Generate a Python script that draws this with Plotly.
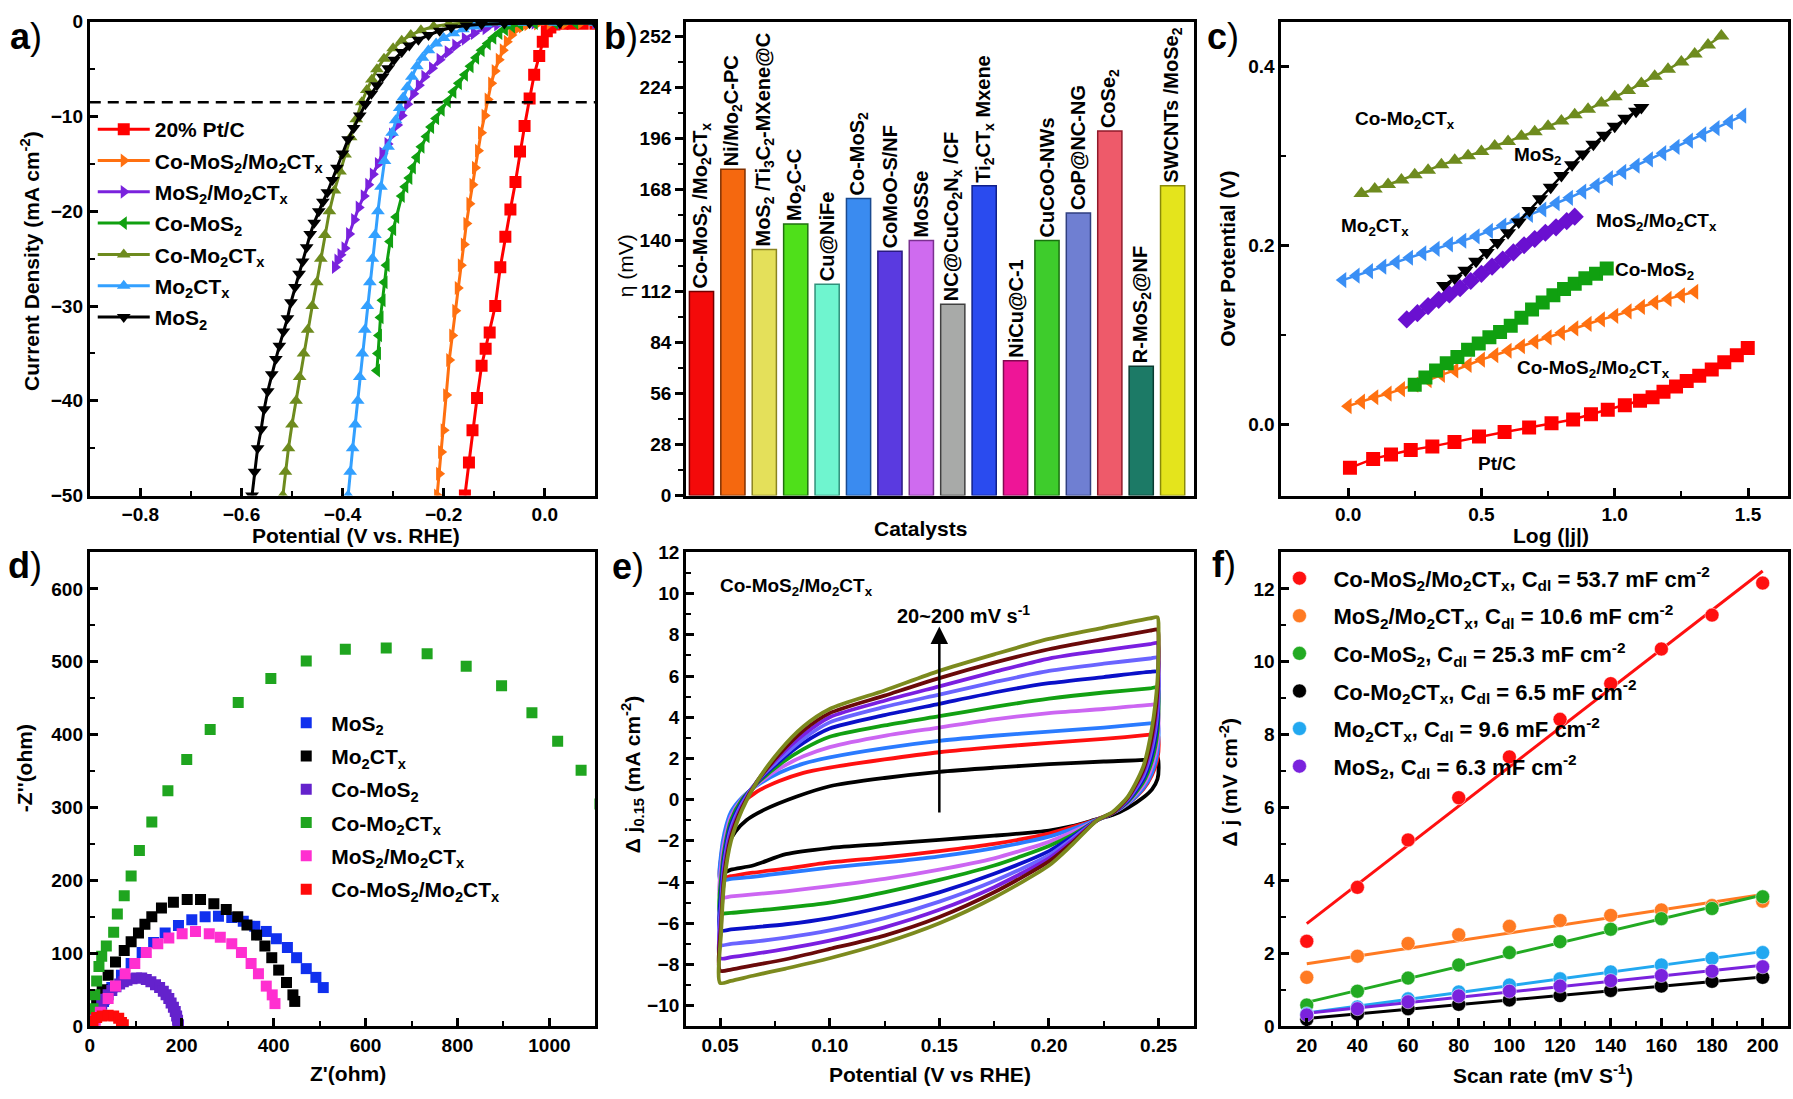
import numpy as np
import plotly.graph_objects as go

W, H = 1793, 1099
FONT = "Liberation Sans, Arial, Helvetica, sans-serif"

# ---------------- panel a : LSV ----------------
pt_x = [-0.158,-0.150,-0.143,-0.134,-0.125,-0.117,-0.109,-0.098,-0.088,-0.078,-0.068,-0.058,-0.049,-0.040,-0.030,-0.021,-0.011,-0.004,0.004,0.011,0.019,0.035,0.055,0.075,0.1]
pt_y = [-50,-46.5,-43.1,-39.7,-36.3,-34.5,-32.8,-30.0,-25.9,-22.7,-19.8,-16.9,-13.7,-11.0,-8.1,-5.6,-3.6,-2.1,-1.0,-0.6,-0.3,-0.2,-0.2,-0.2,-0.2]
comos2mx_x = [-0.213,-0.209,-0.205,-0.200,-0.195,-0.189,-0.183,-0.177,-0.172,-0.166,-0.160,-0.155,-0.149,-0.143,-0.138,-0.132,-0.126,-0.119,-0.113,-0.106,-0.099,-0.091,-0.083,-0.075,-0.066,-0.057,-0.045,-0.034,-0.015,0.01,0.04,0.07,0.1]
comos2mx_y = [-50,-47.7,-45.4,-43.1,-39.4,-35.7,-33.1,-30.5,-28.1,-25.7,-23.5,-21.3,-19.2,-17.2,-15.4,-13.6,-11.7,-9.9,-8.2,-6.5,-5.2,-4.0,-3.0,-2.1,-1.4,-0.8,-0.5,-0.26,-0.2,-0.15,-0.15,-0.15,-0.15]
mos2mx_x = [-0.415,-0.410,-0.404,-0.396,-0.387,-0.377,-0.368,-0.358,-0.349,-0.340,-0.330,-0.321,-0.311,-0.302,-0.292,-0.283,-0.272,-0.260,-0.249,-0.238,-0.223,-0.208,-0.192,-0.177,-0.158,-0.140,-0.117,-0.094,-0.06,-0.02,0.03,0.1]
mos2mx_y = [-25.9,-25.2,-24.6,-23.9,-22.4,-20.9,-19.6,-18.4,-17.2,-16.1,-15.0,-13.9,-12.9,-11.9,-10.9,-9.9,-8.7,-7.6,-6.7,-5.8,-4.9,-4.0,-3.2,-2.5,-1.8,-1.2,-0.7,-0.3,-0.15,-0.1,-0.1,-0.1]
comos2_x = [-0.332,-0.330,-0.328,-0.325,-0.321,-0.317,-0.313,-0.306,-0.300,-0.294,-0.283,-0.276,-0.268,-0.261,-0.253,-0.244,-0.234,-0.225,-0.215,-0.204,-0.192,-0.181,-0.170,-0.158,-0.147,-0.136,-0.125,-0.113,-0.102,-0.090,-0.079,-0.065,-0.049,-0.02,0.02,0.06,0.1]
comos2_y = [-36.8,-35.0,-33.1,-31.2,-29.4,-27.5,-25.7,-23.2,-21.9,-20.6,-18.4,-17.4,-16.5,-15.4,-14.3,-13.2,-12.1,-11.1,-10.2,-9.3,-8.4,-7.4,-6.5,-5.6,-4.7,-3.8,-3.0,-2.3,-1.7,-1.2,-0.8,-0.5,-0.26,-0.15,-0.1,-0.1,-0.1]
comx_x = [-0.518,-0.513,-0.507,-0.500,-0.492,-0.485,-0.477,-0.469,-0.460,-0.451,-0.443,-0.435,-0.426,-0.416,-0.405,-0.395,-0.384,-0.373,-0.362,-0.352,-0.342,-0.332,-0.318,-0.300,-0.283,-0.265,-0.245,-0.22,-0.19,-0.15,-0.1,-0.04,0.03,0.1]
comx_y = [-50,-47.5,-45,-42.5,-40,-37.5,-35,-32.5,-30,-27.5,-25,-22.5,-20,-17.8,-15.8,-14,-12.2,-10.3,-8.5,-7.2,-6.1,-5.0,-3.9,-2.8,-2.0,-1.4,-0.9,-0.5,-0.25,-0.1,-0.07,-0.07,-0.07,-0.07]
mx_x = [-0.389,-0.385,-0.380,-0.375,-0.370,-0.366,-0.361,-0.356,-0.351,-0.346,-0.341,-0.336,-0.330,-0.324,-0.317,-0.310,-0.302,-0.295,-0.287,-0.280,-0.272,-0.263,-0.253,-0.242,-0.230,-0.215,-0.200,-0.181,-0.162,-0.140,-0.117,-0.08,-0.04,0.02,0.1]
mx_y = [-50,-47.5,-45,-42.5,-40,-37.5,-35,-32.5,-30,-27.5,-25,-22.5,-20,-17.4,-14.7,-13.2,-11.7,-10.4,-9.1,-8.0,-6.9,-5.8,-4.7,-3.8,-3.0,-2.3,-1.7,-1.2,-0.8,-0.5,-0.26,-0.15,-0.1,-0.1,-0.1]
mos2_x = [-0.579,-0.574,-0.568,-0.561,-0.555,-0.548,-0.540,-0.532,-0.525,-0.517,-0.509,-0.502,-0.494,-0.486,-0.479,-0.471,-0.464,-0.456,-0.447,-0.439,-0.430,-0.420,-0.411,-0.400,-0.389,-0.378,-0.366,-0.355,-0.343,-0.332,-0.321,-0.310,-0.298,-0.283,-0.268,-0.250,-0.230,-0.208,-0.185,-0.155,-0.125,-0.08,-0.03,0.03,0.1]
mos2_y = [-50,-47.5,-45,-43,-40.9,-39,-37.2,-35.6,-34.2,-32.7,-31.3,-29.6,-28.0,-26.6,-25.3,-23.8,-22.4,-21.2,-20.0,-19.0,-18.0,-16.7,-15.4,-13.9,-12.4,-11.2,-9.9,-8.7,-7.6,-6.7,-5.8,-4.9,-4.0,-3.2,-2.5,-1.9,-1.4,-0.95,-0.6,-0.4,-0.26,-0.18,-0.15,-0.15,-0.15]
ref_current = -8.5

# ---------------- panel b : bar chart ----------------
b_labels = ["Co-MoS<sub>2</sub> /Mo<sub>2</sub>CT<sub>x</sub>", "Ni/Mo<sub>2</sub>C-PC",
            "MoS<sub>2</sub> /Ti<sub>3</sub>C<sub>2</sub>-MXene@C", "Mo<sub>2</sub>C-C", "Cu@NiFe",
            "Co-MoS<sub>2</sub>", "CoMoO-S/NF", "MoSSe", "NC@CuCo<sub>2</sub>N<sub>x</sub> /CF",
            "Ti<sub>2</sub>CT<sub>x</sub> Mxene", "NiCu@C-1", "CuCoO-NWs", "CoP@NC-NG",
            "CoSe<sub>2</sub>", "R-MoS<sub>2</sub>@NF", "SWCNTs /MoSe<sub>2</sub>"]
b_values = [112, 179, 135, 149, 116, 163, 134, 140, 105, 170, 74, 140, 155, 200, 71, 170]
b_colors = ["#F40A0A", "#F5680F", "#E4E05A", "#4FE01A", "#6FF5CF", "#3A8BF0", "#5A3AE0", "#CF6BEF",
            "#A8AAA8", "#2A4BEF", "#EE1597", "#3ECC2C", "#6F7FD2", "#EE5A6A", "#1C7A66", "#E4E41C"]
b_edges = ["#700000", "#803000", "#8A8420", "#207010", "#30907A", "#1A4A90", "#2A1A80", "#7A3090",
           "#404040", "#10208A", "#800A50", "#1A7010", "#303F80", "#901A2A", "#0A3A30", "#8A8A0A"]

# ---------------- panel c : Tafel ----------------
tc_comx_x = [0.05,0.10,0.15,0.20,0.25,0.30,0.35,0.40,0.45,0.50,0.55,0.60,0.65,0.70,0.75,0.80,0.85,0.90,0.95,1.00,1.05,1.10,1.15,1.20,1.25,1.30,1.35,1.40]
tc_comx_y = [0.258,0.263,0.268,0.273,0.279,0.284,0.290,0.295,0.300,0.305,0.311,0.316,0.322,0.327,0.333,0.339,0.346,0.352,0.359,0.366,0.373,0.381,0.389,0.397,0.405,0.414,0.424,0.434]
tc_mx_x = [-0.02,0.03,0.08,0.13,0.18,0.23,0.28,0.33,0.38,0.43,0.48,0.53,0.58,0.63,0.68,0.73,0.78,0.83,0.88,0.93,0.98,1.03,1.08,1.13,1.18,1.23,1.28,1.33,1.38,1.43,1.48]
tc_mx_y = [0.161,0.166,0.171,0.176,0.181,0.186,0.191,0.196,0.201,0.205,0.210,0.216,0.222,0.228,0.234,0.240,0.247,0.253,0.260,0.267,0.275,0.282,0.289,0.296,0.303,0.310,0.317,0.324,0.331,0.338,0.345]
tc_mos2_x = [0.36,0.40,0.44,0.48,0.52,0.56,0.60,0.64,0.68,0.72,0.76,0.80,0.84,0.88,0.92,0.96,1.00,1.04,1.08,1.10]
tc_mos2_y = [0.155,0.163,0.172,0.182,0.192,0.203,0.214,0.226,0.239,0.252,0.265,0.278,0.290,0.302,0.313,0.323,0.333,0.342,0.350,0.354]
tc_mos2mx_x = [0.22,0.26,0.30,0.34,0.38,0.42,0.46,0.50,0.54,0.58,0.62,0.66,0.70,0.74,0.78,0.82,0.85]
tc_mos2mx_y = [0.117,0.124,0.132,0.139,0.145,0.152,0.160,0.168,0.176,0.184,0.192,0.200,0.207,0.214,0.220,0.227,0.232]
tc_comos2_x = [0.25,0.29,0.33,0.37,0.41,0.45,0.49,0.53,0.57,0.61,0.65,0.69,0.73,0.77,0.81,0.85,0.89,0.93,0.97]
tc_comos2_y = [0.044,0.052,0.060,0.068,0.075,0.083,0.090,0.097,0.103,0.110,0.119,0.128,0.136,0.144,0.151,0.157,0.163,0.168,0.174]
tc_comos2mx_x = [0.0,0.05,0.10,0.15,0.20,0.25,0.30,0.35,0.40,0.45,0.50,0.55,0.60,0.65,0.70,0.75,0.80,0.85,0.90,0.95,1.00,1.05,1.10,1.15,1.20,1.25,1.30]
tc_comos2mx_y = [0.020,0.025,0.030,0.034,0.039,0.044,0.049,0.055,0.060,0.066,0.072,0.077,0.082,0.087,0.092,0.097,0.102,0.107,0.112,0.117,0.121,0.126,0.131,0.136,0.140,0.144,0.148]
tc_pt_x = [0.007,0.094,0.161,0.235,0.316,0.399,0.491,0.587,0.679,0.763,0.844,0.911,0.974,1.038,1.095,1.142,1.183,1.230,1.270,1.317,1.364,1.411,1.458,1.499]
tc_pt_y = [-0.049,-0.039,-0.034,-0.029,-0.025,-0.020,-0.014,-0.009,-0.004,0.001,0.005,0.011,0.016,0.021,0.026,0.030,0.036,0.042,0.048,0.054,0.061,0.069,0.077,0.085]

# ---------------- panel d : Nyquist ----------------
d_mos2_x = [15,30,48,69,90,114,139,164,193,222,251,280,309,334,359,384,406,430,450,471,492,508]
d_mos2_y = [14,34,53,70,86,101,115,128,138,146,150,151,149,144,137,130,120,108,94,79,67,53]
d_mx_x = [6,15,27,40,56,75,90,106,120,135,156,182,212,241,270,297,322,342,363,381,396,411,428,442,446]
d_mx_y = [10,29,50,70,88,104,116,128,140,150,162,170,174,174,168,160,150,139,125,110,94,77,60,43,34]
d_comos2_x = [5,11,19,26,32,40,48,57,65,73,81,92,102,113,123,133,143,152,160,166,172,177,182,186,189,191,193]
d_comos2_y = [2,12,22,30,37,43,49,54,58,61,63,65,66,66,64,61,57,53,48,43,38,32,26,20,14,8,2]
d_comx_x = [3,7,11,15,20,26,36,52,60,75,90,108,135,170,211,262,323,394,471,556,645,734,819,896,962,1018,1069,1110]
d_comx_y = [7,24,43,62,82,96,110,129,154,179,206,241,280,323,366,407,444,477,501,517,519,511,494,467,430,391,351,305]
d_mos2mx_x = [12,23,40,56,77,98,123,148,172,201,230,260,284,309,330,351,367,384,397,403]
d_mos2mx_y = [8,19,38,55,72,86,101,113,121,127,130,127,122,113,101,86,72,55,43,31]
d_comos2mx_x = [2,7,15,27,40,52,63,69,73]
d_comos2mx_y = [2,7,12,14,15,14,11,5,2]

# ---------------- panel e : CV loops ----------------
cv_x_black = [0.05,0.051,0.053,0.057,0.062,0.07,0.085,0.10,0.125,0.15,0.175,0.20,0.225,0.246,0.2495,0.25,0.2495,0.247,0.243,0.236,0.229,0.222,0.21,0.20,0.175,0.15,0.125,0.10,0.08,0.065,0.055,0.05]
cv_y_20 = [-3.6,-3.0,-2.3,-1.55,-1.0,-0.5,0.15,0.65,1.05,1.35,1.55,1.72,1.85,1.95,2.05,1.7,1.0,0.5,0.1,-0.4,-0.75,-0.95,-1.3,-1.5,-1.75,-1.95,-2.15,-2.35,-2.65,-3.2,-3.4,-3.6]
cv_x = [0.05,0.0505,0.052,0.055,0.06,0.067,0.077,0.088,0.10,0.125,0.15,0.175,0.20,0.225,0.246,0.2495,0.25,0.2495,0.247,0.243,0.236,0.229,0.222,0.21,0.20,0.175,0.15,0.125,0.10,0.08,0.065,0.055,0.05]
cv_y_40 = [-3.8,-2.8,-1.8,-0.9,-0.2,0.4,0.9,1.3,1.55,1.95,2.3,2.55,2.75,2.95,3.15,3.2,2.9,2.0,1.2,0.5,-0.2,-0.65,-0.95,-1.35,-1.65,-2.15,-2.5,-2.8,-3.05,-3.35,-3.55,-3.72,-3.8]
cv_y_60 = [-3.9,-2.6,-1.6,-0.6,0.1,0.7,1.3,1.75,2.05,2.5,2.85,3.1,3.3,3.5,3.7,3.75,3.4,2.3,1.3,0.55,-0.2,-0.65,-0.97,-1.45,-1.8,-2.35,-2.75,-3.05,-3.3,-3.55,-3.75,-3.85,-3.9]
cv_y_80 = [-4.75,-3.2,-2.0,-0.8,0.05,0.75,1.5,2.1,2.55,3.1,3.5,3.9,4.2,4.4,4.6,4.6,4.2,2.8,1.6,0.7,-0.15,-0.65,-1.0,-1.6,-2.05,-2.85,-3.4,-3.85,-4.2,-4.45,-4.6,-4.7,-4.75]
cv_y_100 = [-5.5,-3.8,-2.4,-1.0,0.0,0.8,1.7,2.45,3.05,3.6,4.05,4.5,4.9,5.2,5.4,5.45,5.0,3.3,1.9,0.85,-0.1,-0.65,-1.0,-1.75,-2.25,-3.2,-3.9,-4.5,-5.0,-5.25,-5.4,-5.5,-5.5]
cv_y_120 = [-6.35,-4.4,-2.7,-1.2,-0.1,0.85,1.85,2.75,3.45,4.1,4.65,5.2,5.65,5.95,6.2,6.2,5.7,3.8,2.2,1.0,-0.05,-0.65,-1.0,-1.85,-2.5,-3.6,-4.5,-5.2,-5.75,-6.05,-6.2,-6.3,-6.35]
cv_y_140 = [-7.05,-5.0,-3.0,-1.4,-0.2,0.9,1.95,2.95,3.75,4.5,5.1,5.7,6.25,6.6,6.85,6.9,6.3,4.3,2.5,1.15,0.0,-0.65,-1.0,-1.95,-2.7,-3.95,-4.95,-5.75,-6.35,-6.7,-6.9,-7.0,-7.05]
cv_y_160 = [-7.7,-5.5,-3.3,-1.6,-0.3,0.9,2.1,3.15,4.0,4.8,5.5,6.2,6.85,7.25,7.55,7.6,7.0,4.8,2.8,1.3,0.05,-0.65,-1.0,-2.05,-2.85,-4.25,-5.35,-6.2,-6.85,-7.25,-7.5,-7.65,-7.7]
cv_y_180 = [-8.3,-6.0,-3.6,-1.8,-0.4,0.9,2.2,3.35,4.2,5.05,5.9,6.65,7.3,7.8,8.2,8.25,7.6,5.3,3.1,1.45,0.1,-0.65,-1.0,-2.15,-3.0,-4.5,-5.7,-6.6,-7.25,-7.75,-8.05,-8.25,-8.3]
cv_y_200 = [-8.9,-6.4,-3.9,-2.0,-0.5,0.9,2.35,3.55,4.4,5.3,6.25,7.05,7.8,8.35,8.8,8.85,8.2,5.8,3.5,1.6,0.15,-0.6,-1.0,-2.25,-3.2,-4.75,-6.0,-6.95,-7.7,-8.2,-8.55,-8.8,-8.9]
cv_colors = ["#000000", "#FF1010", "#2A7BFF", "#CC66F2", "#12A012", "#0A10C8", "#6A64FF", "#7A1FE0", "#6A0A0A", "#7C8A1E"]

# ---------------- panel f : Cdl ----------------
f_x = [20, 40, 60, 80, 100, 120, 140, 160, 180, 200]
f_red = [2.33, 3.81, 5.11, 6.27, 7.39, 8.42, 9.40, 10.35, 11.28, 12.16]
f_orange = [1.34, 1.92, 2.27, 2.51, 2.74, 2.90, 3.04, 3.19, 3.31, 3.43]
f_green = [0.58, 0.96, 1.32, 1.68, 2.02, 2.32, 2.66, 2.95, 3.23, 3.55]
f_black = [0.19, 0.34, 0.48, 0.60, 0.72, 0.84, 0.98, 1.10, 1.23, 1.34]
f_lblue = [0.34, 0.53, 0.75, 0.94, 1.13, 1.30, 1.49, 1.68, 1.86, 2.02]
f_purple = [0.31, 0.48, 0.67, 0.83, 0.96, 1.10, 1.25, 1.39, 1.51, 1.63]

# ================= layout helpers =================
def px(X):
    return X / W

def py(Y):
    return 1 - Y / H

COLS = [(85, 592), (683, 1192), (1280, 1788)]
ROWS = [(12, 495), (553, 1036)]

def dom_x(c):
    return [px(COLS[c][0]), px(COLS[c][1])]

def dom_y(r):
    return [py(ROWS[r][1]), py(ROWS[r][0])]

TICKFONT = dict(family=FONT, size=19, color="black", weight="bold")

def axis(domain, rng, dtick, tick0, mdtick, anchor, ticks="inside", fmt=None, labels=True):
    d = dict(domain=domain, range=rng, dtick=dtick, tick0=tick0, ticks=ticks, ticklen=8,
             tickwidth=2.5, tickcolor="black", showline=True, linewidth=3, linecolor="black",
             mirror=True, showgrid=False, zeroline=False, tickfont=TICKFONT, anchor=anchor,
             showticklabels=labels)
    if mdtick:
        d["minor"] = dict(dtick=mdtick, tick0=tick0, ticks=ticks, ticklen=5, tickwidth=2,
                          tickcolor="black", showgrid=False)
    if fmt:
        d["tickformat"] = fmt
    return d

fig = go.Figure()

# ---- panel a traces ----
lsv = [
    ("20% Pt/C", pt_x, pt_y, "#FF0000", "square"),
    ("Co-MoS<sub>2</sub>/Mo<sub>2</sub>CT<sub>x</sub>", comos2mx_x, comos2mx_y, "#FF7010", "triangle-right"),
    ("MoS<sub>2</sub>/Mo<sub>2</sub>CT<sub>x</sub>", mos2mx_x, mos2mx_y, "#7A22DD", "triangle-right"),
    ("Co-MoS<sub>2</sub>", comos2_x, comos2_y, "#10A010", "triangle-left"),
    ("Co-Mo<sub>2</sub>CT<sub>x</sub>", comx_x, comx_y, "#6E8B1E", "triangle-up"),
    ("Mo<sub>2</sub>CT<sub>x</sub>", mx_x, mx_y, "#33A0FF", "triangle-up"),
    ("MoS<sub>2</sub>", mos2_x, mos2_y, "#000000", "triangle-down"),
]
for i, (nm, xs, ys, col, sym) in enumerate(lsv):
    fig.add_trace(go.Scatter(x=xs, y=ys, name=nm, mode="lines+markers", xaxis="x", yaxis="y",
                             line=dict(color=col, width=3), marker=dict(symbol=sym, size=12, color=col),
                             legend="legend", legendgroup="a%d" % i))
fig.add_shape(type="line", xref="x domain", yref="y", x0=0, x1=1, y0=ref_current, y1=ref_current,
              line=dict(color="black", width=2.5, dash="11px,7px"))

# ---- panel b ----
fig.add_trace(go.Bar(x=list(range(len(b_values))), y=b_values, xaxis="x2", yaxis="y2", width=0.77,
                     marker=dict(color=b_colors, line=dict(color=b_edges, width=1.5)),
                     text=b_labels, textposition="outside", textangle=-90, cliponaxis=False,
                     constraintext="none", textfont=dict(family=FONT, size=20, color="black", weight="bold"),
                     showlegend=False))

# ---- panel c ----
tafel = [
    (tc_comx_x, tc_comx_y, "#6E8B1E", "triangle-up"),
    (tc_mx_x, tc_mx_y, "#3A8FF5", "triangle-left"),
    (tc_mos2_x, tc_mos2_y, "#000000", "triangle-down"),
    (tc_mos2mx_x, tc_mos2mx_y, "#6A10D0", "diamond"),
    (tc_comos2mx_x, tc_comos2mx_y, "#FF7010", "triangle-left"),
    (tc_comos2_x, tc_comos2_y, "#10A010", "square"),
    (tc_pt_x, tc_pt_y, "#FF0000", "square"),
]
for xs, ys, col, sym in tafel:
    fig.add_trace(go.Scatter(x=xs, y=ys, mode="lines+markers", xaxis="x3", yaxis="y3",
                             line=dict(color=col, width=2.5), marker=dict(symbol=sym, size=14, color=col),
                             showlegend=False))

# ---- panel d ----
nyq = [
    ("MoS<sub>2</sub>", d_mos2_x, d_mos2_y, "#1030EE"),
    ("Mo<sub>2</sub>CT<sub>x</sub>", d_mx_x, d_mx_y, "#000000"),
    ("Co-MoS<sub>2</sub>", d_comos2_x, d_comos2_y, "#6422CC"),
    ("Co-Mo<sub>2</sub>CT<sub>x</sub>", d_comx_x, d_comx_y, "#1FA51F"),
    ("MoS<sub>2</sub>/Mo<sub>2</sub>CT<sub>x</sub>", d_mos2mx_x, d_mos2mx_y, "#FF2FD0"),
    ("Co-MoS<sub>2</sub>/Mo<sub>2</sub>CT<sub>x</sub>", d_comos2mx_x, d_comos2mx_y, "#FF0A0A"),
]
for i, (nm, xs, ys, col) in enumerate(nyq):
    fig.add_trace(go.Scatter(x=xs, y=ys, name=nm, mode="markers", xaxis="x4", yaxis="y4",
                             marker=dict(symbol="square", size=11, color=col),
                             legend="legend2", legendgroup="d%d" % i))

# ---- panel e ----
cv_sets = [(cv_x_black, cv_y_20), (cv_x, cv_y_40), (cv_x, cv_y_60), (cv_x, cv_y_80), (cv_x, cv_y_100),
           (cv_x, cv_y_120), (cv_x, cv_y_140), (cv_x, cv_y_160), (cv_x, cv_y_180), (cv_x, cv_y_200)]
for (xs, ys), col in zip(cv_sets, cv_colors):
    fig.add_trace(go.Scatter(x=xs, y=ys, mode="lines", xaxis="x5", yaxis="y5",
                             line=dict(color=col, width=3.8, shape="spline", smoothing=0.7),
                             showlegend=False))

# ---- panel f ----
cdl = [
    ("Co-MoS<sub>2</sub>/Mo<sub>2</sub>CT<sub>x</sub>, C<sub>dl</sub> = 53.7 mF cm<sup>-2</sup>", f_red, "#FF1010"),
    ("MoS<sub>2</sub>/Mo<sub>2</sub>CT<sub>x</sub>, C<sub>dl</sub> = 10.6 mF cm<sup>-2</sup>", f_orange, "#FF7A22"),
    ("Co-MoS<sub>2</sub>, C<sub>dl</sub> = 25.3 mF cm<sup>-2</sup>", f_green, "#22AA22"),
    ("Co-Mo<sub>2</sub>CT<sub>x</sub>, C<sub>dl</sub> = 6.5 mF cm<sup>-2</sup>", f_black, "#000000"),
    ("Mo<sub>2</sub>CT<sub>x</sub>, C<sub>dl</sub> = 9.6 mF cm<sup>-2</sup>", f_lblue, "#22A8F0"),
    ("MoS<sub>2</sub>, C<sub>dl</sub> = 6.3 mF cm<sup>-2</sup>", f_purple, "#7A22DD"),
]
xfit = np.array([f_x[0], f_x[-1]], dtype=float)
for nm, ys, col in cdl:
    k, b0 = np.polyfit(f_x, ys, 1)
    fig.add_trace(go.Scatter(x=xfit, y=k * xfit + b0, mode="lines", xaxis="x6", yaxis="y6",
                             line=dict(color=col, width=3), showlegend=False))
for i, (nm, ys, col) in enumerate(cdl):
    fig.add_trace(go.Scatter(x=f_x, y=ys, name=nm, mode="markers", xaxis="x6", yaxis="y6",
                             marker=dict(symbol="circle", size=14, color=col,
                                         line=dict(color="rgba(255,255,255,0.5)", width=1)),
                             legend="legend3", legendgroup="f%d" % i))

# ================= axes =================
fig.update_layout(
    xaxis=axis(dom_x(0), [-0.9, 0.1], 0.2, 0, 0.1, "y", fmt=".1f"),
    yaxis=axis(dom_y(0), [-50, 0], 10, 0, 5, "x"),
    xaxis2=axis(dom_x(1), [-0.49, 15.67], 1, 0, None, "y2", ticks="", labels=False),
    yaxis2=axis(dom_y(0), [0, 260], 28, 0, 14, "x2", ticks="outside"),
    xaxis3=axis(dom_x(2), [-0.25, 1.65], 0.5, 0, 0.25, "y3", fmt=".1f"),
    yaxis3=axis(dom_y(0), [-0.08, 0.45], 0.2, 0, 0.1, "x3", fmt=".1f"),
    xaxis4=axis(dom_x(0), [0, 1100], 200, 0, 100, "y4"),
    yaxis4=axis(dom_y(1), [0, 650], 100, 0, 50, "x4"),
    xaxis5=axis(dom_x(1), [0.0345, 0.266], 0.05, 0, 0.025, "y5", fmt=".2f"),
    yaxis5=axis(dom_y(1), [-11, 12], 2, 0, 1, "x5"),
    xaxis6=axis(dom_x(2), [10, 210], 20, 20, 10, "y6"),
    yaxis6=axis(dom_y(1), [0, 13], 2, 0, 1, "x6"),
)

LEGFONT = dict(family=FONT, size=21, color="black", weight="bold")
fig.update_layout(
    legend=dict(x=px(88), y=py(101), xanchor="left", yanchor="top", bgcolor="rgba(0,0,0,0)",
                font=LEGFONT, itemwidth=52, tracegroupgap=1, traceorder="grouped"),
    legend2=dict(x=px(277), y=py(706), xanchor="left", yanchor="top", bgcolor="rgba(0,0,0,0)",
                 font=LEGFONT, itemwidth=40, tracegroupgap=3, traceorder="grouped"),
    legend3=dict(x=px(1264), y=py(558), xanchor="left", yanchor="top", bgcolor="rgba(0,0,0,0)",
                 font=dict(family=FONT, size=22, color="black", weight="bold"), itemwidth=58,
                 tracegroupgap=6, traceorder="grouped"),
)

# ================= annotations =================
ann = []

def paper_text(X, Y, text, size=21, angle=0, weight="bold"):
    ann.append(dict(x=px(X), y=py(Y), xref="paper", yref="paper", text=text, showarrow=False,
                    textangle=angle, xanchor="center", yanchor="middle",
                    font=dict(family=FONT, size=size, color="black", weight=weight)))

# panel letters
for X, Y, t in [(21, 27, "a"), (618, 27, "b"), (1221, 27, "c"), (20, 566, "d"), (625, 567, "e"), (1222, 565, "f")]:
    paper_text(X, Y, "<b>%s</b>)" % t, size=36, weight="normal")

# axis titles
paper_text(352, 536, "Potential (V vs. RHE)")
paper_text(25, 256, "Current Density (mA cm<sup>-2</sup>)", angle=-90)
paper_text(918, 529, "Catalysts")
paper_text(622, 261, "η (mV)", angle=-90, weight="normal")
paper_text(1550, 536, "Log (|j|)")
paper_text(1226, 254, "Over Potential (V)", angle=-90)
paper_text(344, 1084, "Z'(ohm)")
paper_text(19, 773, "-Z''(ohm)", angle=-90)
paper_text(928, 1085, "Potential (V vs RHE)")
paper_text(629, 779, "Δ j<sub>0.15</sub> (mA cm<sup>-2</sup>)", angle=-90)
paper_text(1542, 1085, "Scan rate (mV S<sup>-1</sup>)")
paper_text(1227, 787, "Δ j (mV cm<sup>-2</sup>)", angle=-90)

# panel c labels
for x0, y0, t in [(0.215, 0.340, "Co-Mo<sub>2</sub>CT<sub>x</sub>"), (0.712, 0.300, "MoS<sub>2</sub>"),
                  (0.10, 0.220, "Mo<sub>2</sub>CT<sub>x</sub>"),
                  (1.156, 0.226, "MoS<sub>2</sub>/Mo<sub>2</sub>CT<sub>x</sub>"),
                  (1.149, 0.171, "Co-MoS<sub>2</sub>"),
                  (0.92, 0.0615, "Co-MoS<sub>2</sub>/Mo<sub>2</sub>CT<sub>x</sub>"), (0.558, -0.044, "Pt/C")]:
    ann.append(dict(x=x0, y=y0, xref="x3", yref="y3", text=t, showarrow=False,
                    font=dict(family=FONT, size=19, color="black", weight="bold")))

# panel e labels
ann.append(dict(x=0.085, y=10.3, xref="x5", yref="y5", text="Co-MoS<sub>2</sub>/Mo<sub>2</sub>CT<sub>x</sub>",
                showarrow=False, font=dict(family=FONT, size=19, color="black", weight="bold")))
ann.append(dict(x=0.161, y=9.0, xref="x5", yref="y5", text="20~200 mV s<sup>-1</sup>",
                showarrow=False, font=dict(family=FONT, size=20, color="black", weight="bold")))
ann.append(dict(x=0.15, y=8.4, ax=0.15, ay=-0.7, xref="x5", yref="y5", axref="x5", ayref="y5",
                text="", showarrow=True, arrowhead=2, arrowsize=1.4, arrowwidth=2.5, arrowcolor="black"))

fig.update_layout(annotations=ann)

fig.update_layout(
    width=W, height=H, margin=dict(l=0, r=0, t=0, b=0),
    paper_bgcolor="white", plot_bgcolor="white",
    font=dict(family=FONT, size=19, color="black", weight="bold"),
)

fig.write_html("out.html", config={"displayModeBar": False},
               post_script="document.body.style.margin='0px';document.body.style.padding='0px';"
                           "document.body.style.overflow='hidden';")
